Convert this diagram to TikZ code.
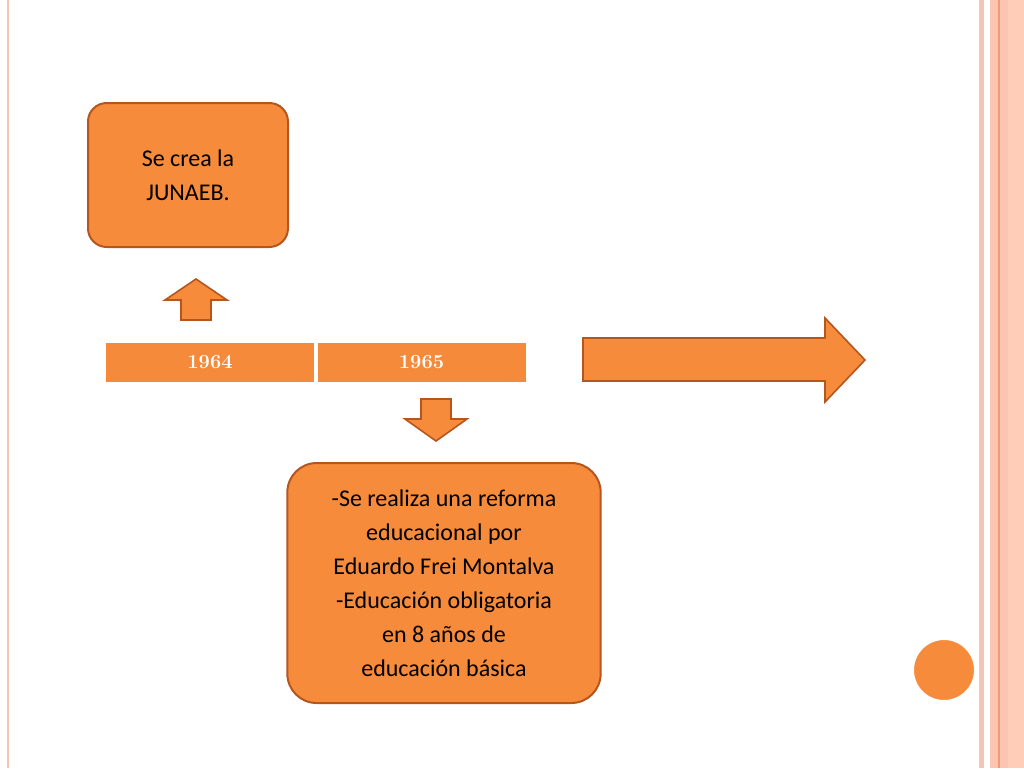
\documentclass[tikz,border=0pt]{standalone}
\usepackage{fontspec}
\newfontfamily\carlitofont{Carlito}
\begin{document}
\begin{tikzpicture}[x=0.75pt,y=-0.75pt,
  org/.style={fill=ofill,draw=oedge,line width=1.5pt},
  btxt/.style={font=\carlitofont\fontsize{18}{25.5}\selectfont,align=center,text=black},
  yr/.style={font=\bfseries\fontsize{15}{18}\selectfont,text=white}]
\definecolor{ofill}{HTML}{F68B3B}
\definecolor{oedge}{HTML}{B5561F}
\definecolor{tfill}{HTML}{F58A3A}
\definecolor{s1}{HTML}{F7C4B4}
\definecolor{s2}{HTML}{FCC5B2}
\definecolor{s3}{HTML}{FFCDB8}
\definecolor{s4}{HTML}{EF9A78}
\useasboundingbox (0,0) rectangle (1024,768);
\fill[white] (0,0) rectangle (1024,768);
% borders
\fill[s1] (979,0) rectangle (984,768);
\fill[s2] (990,0) rectangle (998,768);
\fill[s4] (998,0) rectangle (1000,768);
\fill[s2] (1000,0) rectangle (1008,768);
\fill[s3] (1008,0) rectangle (1024,768);
\fill[s1] (7,0) rectangle (9,768);
% top box
\node[org,rounded corners=14pt,minimum width=150pt,minimum height=108pt,btxt] (top) at (188,175) {Se crea la\\JUNAEB.};
% up arrow
\draw[org,line width=1.2pt] (181,320) -- (181,300) -- (165,300) -- (196,279) -- (227,300) -- (211,300) -- (211,320) -- cycle;
% table
\node[fill=tfill,minimum width=156pt,minimum height=29pt,inner sep=0pt,yr] (y1) at (210,362.5) {1964};
\node[fill=tfill,minimum width=156pt,minimum height=29pt,inner sep=0pt,yr] (y2) at (421.5,362.5) {1965};
\draw[white,line width=1.2pt] (316,343) -- (316,382);
% down arrow
\draw[org,line width=1.2pt] (421,399) -- (451,399) -- (451,419) -- (467,419) -- (436,441) -- (405,419) -- (421,419) -- cycle;
% bottom box
\node[org,rounded corners=22pt,minimum width=235pt,minimum height=180pt,btxt] (bot) at (444,583) {-Se realiza una reforma\\educacional por\\Eduardo Frei Montalva\\-Educación obligatoria\\en 8 años de\\educación básica};
% big arrow
\draw[org,line width=1.2pt] (583,338) -- (825,338) -- (825,318) -- (865,360) -- (825,402) -- (825,381) -- (583,381) -- cycle;
% circle
\draw[fill=ofill,draw=white,line width=1.5pt] (944,670) circle (31);
\end{tikzpicture}
\end{document}
